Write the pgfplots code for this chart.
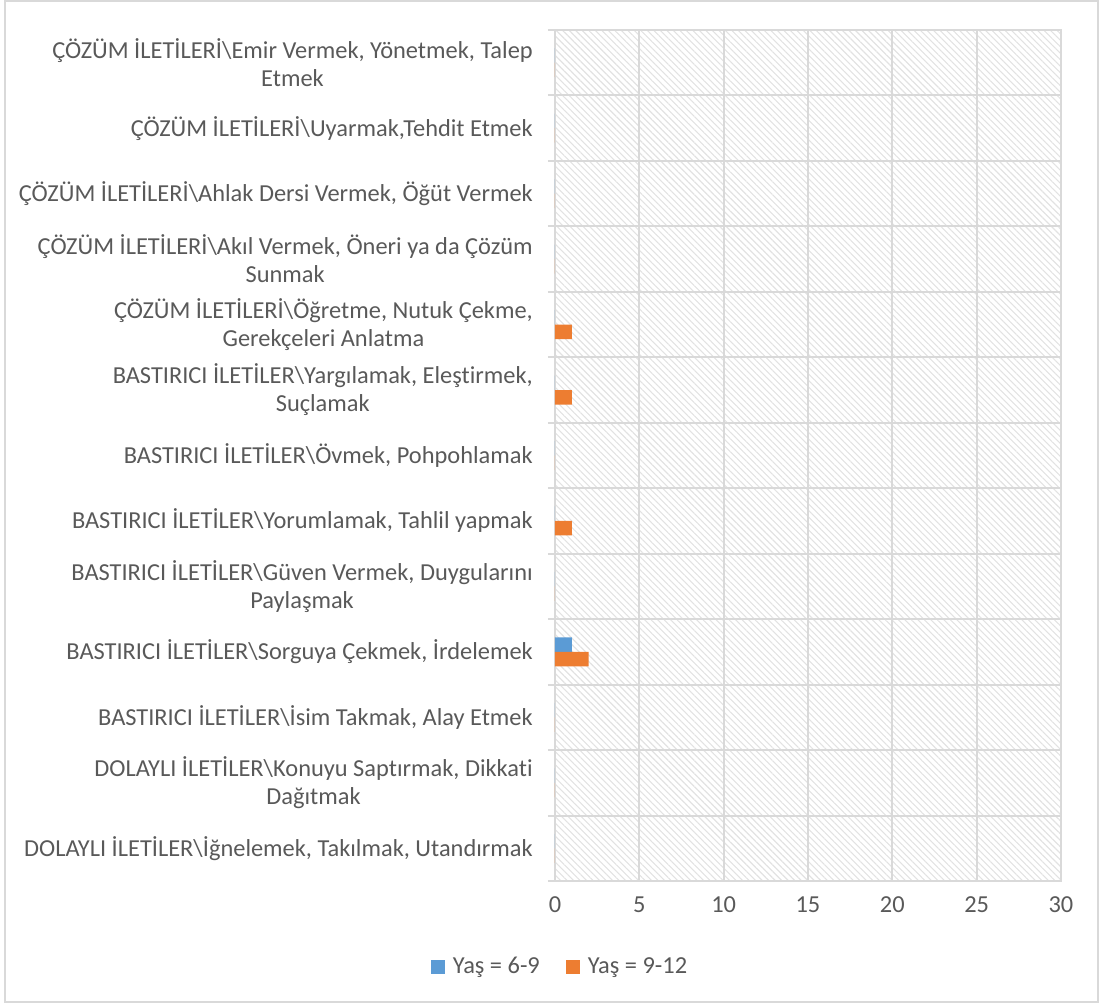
\documentclass[border=0pt]{standalone}
\usepackage{pgfplots}
\pgfplotsset{compat=1.18}
\usepackage{fontspec}
\setmainfont{Carlito}[Ligatures=NoCommon]
\usetikzlibrary{patterns.meta}
\definecolor{txt}{HTML}{595959}
\definecolor{gridc}{HTML}{D9D9D9}
\definecolor{hatchc}{HTML}{E2E2E2}
\definecolor{sblue}{HTML}{5B9BD5}
\definecolor{sorange}{HTML}{ED7D31}

\begin{document}
\begin{tikzpicture}
\useasboundingbox (0,0) rectangle (549.5pt,501.5pt);
\draw[gridc, line width=0.8pt] (2.5pt,0.5pt) rectangle (549pt,501pt);
\begin{axis}[
    at={(277.5pt,61pt)}, anchor=south west,
    scale only axis, width=253pt, height=425.5pt,
    xbar, bar width=7.25pt,
    xmin=0, xmax=30, xtick={0,5,...,30},
    ymin=-0.5, ymax=12.5,
    ytick={0,...,12},
    minor ytick={-0.5,0.5,...,12.5},
    yticklabels={
        {DOLAYLI İLETİLER\textbackslash İğnelemek, Takılmak, Utandırmak},
        {DOLAYLI İLETİLER\textbackslash Konuyu Saptırmak, Dikkati\\Dağıtmak},
        {BASTIRICI İLETİLER\textbackslash İsim Takmak, Alay Etmek},
        {BASTIRICI İLETİLER\textbackslash Sorguya Çekmek, İrdelemek},
        {BASTIRICI İLETİLER\textbackslash Güven Vermek, Duygularını\\Paylaşmak},
        {BASTIRICI İLETİLER\textbackslash Yorumlamak, Tahlil yapmak},
        {BASTIRICI İLETİLER\textbackslash Övmek, Pohpohlamak},
        {BASTIRICI İLETİLER\textbackslash Yargılamak, Eleştirmek,\\Suçlamak},
        {ÇÖZÜM İLETİLERİ\textbackslash Öğretme, Nutuk Çekme,\\Gerekçeleri Anlatma},
        {ÇÖZÜM İLETİLERİ\textbackslash Akıl Vermek, Öneri ya da Çözüm\\Sunmak},
        {ÇÖZÜM İLETİLERİ\textbackslash Ahlak Dersi Vermek, Öğüt Vermek},
        {ÇÖZÜM İLETİLERİ\textbackslash Uyarmak,Tehdit Etmek},
        {ÇÖZÜM İLETİLERİ\textbackslash Emir Vermek, Yönetmek, Talep\\Etmek}
    },
    ytick pos=left, xtick pos=bottom,
    tick align=outside,
    major tick length=0pt, minor tick length=3.5pt,
    minor tick style={gridc, line width=1pt},
    xmajorgrids=true, yminorgrids=true,
    grid style={gridc, line width=1pt},
    minor grid style={gridc, line width=1pt},
    axis line style={gridc, line width=1pt},
    axis background/.style={pattern={Lines[angle=-45,distance=2.3pt,line width=0.55pt]}, pattern color=hatchc},
    ticklabel style={font=\fontsize{12.2}{14}\selectfont, text=txt},
    yticklabel style={align=center, xshift=-7.6pt},
    xticklabel style={yshift=-4.5pt},
    /pgf/number format/assume math mode=true,
    legend style={at={(0.012,-0.101)}, anchor=center, draw=none, fill=none,
        legend columns=-1, font=\fontsize{12.2}{14}\selectfont, text=txt,
        /tikz/every odd column/.append style={column sep=2pt},
        /tikz/every even column/.append style={column sep=11pt}},
    legend image code/.code={\fill[#1] (0pt,-3.5pt) rectangle (7pt,3.5pt);},
]
\addplot[fill=sblue, draw=none, bar shift=3.625pt] coordinates {
    (0,0) (0,1) (0,2) (1,3) (0,4) (0,5) (0,6) (0,7) (0,8) (0,9) (0,10) (0,11) (0,12)};
\addplot[fill=sorange, draw=none, bar shift=-3.625pt] coordinates {
    (0,0) (0,1) (0,2) (2,3) (0,4) (1,5) (0,6) (1,7) (1,8) (0,9) (0,10) (0,11) (0,12)};
\legend{Yaş = 6-9, Yaş = 9-12}
\end{axis}
\end{tikzpicture}
\end{document}
